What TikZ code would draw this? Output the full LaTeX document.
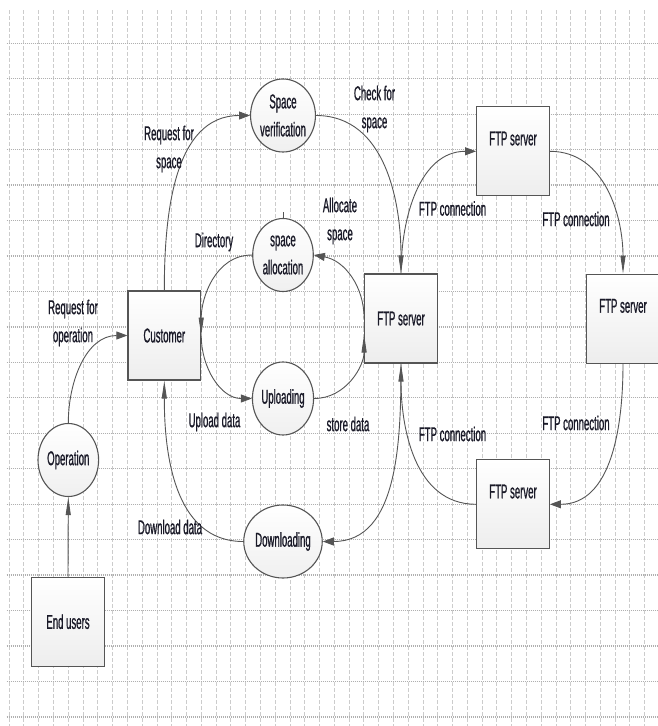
\documentclass[tikz,border=0pt]{standalone}
\usepackage{fontspec}
\setmainfont{Liberation Sans}[FakeStretch=0.48,FakeBold=0.8]
\usetikzlibrary{arrows.meta,shapes.geometric}
\definecolor{linec}{HTML}{555555}
\definecolor{txt}{HTML}{1A1A28}
\definecolor{vgrid}{HTML}{CCCCCC}
\definecolor{hgrid}{HTML}{B0B0B0}
\begin{document}
\begin{tikzpicture}[x=1pt,y=1pt,
  every node/.style={font=\fontsize{20}{28}\selectfont, text=txt},
  proc/.style={ellipse, draw=linec, line width=1.1pt, top color=white, bottom color=gray!12,
    minimum width=60.6pt, minimum height=73pt, inner sep=0pt, align=center},
  ent/.style={rectangle, draw=linec, line width=1.2pt, top color=white, bottom color=gray!14,
    minimum width=72.6pt, minimum height=89pt, inner sep=0pt},
  lbl/.style={align=center, inner sep=0pt},
  conn/.style={draw=linec, line width=0.9pt},
  harr/.style={conn, -{Triangle[length=11pt,width=8pt]}},
  varr/.style={conn, -{Triangle[length=18pt,width=5pt]}},
  vline/.style={vgrid, line width=0.6pt, dash pattern=on 4pt off 2pt},
  hline/.style={hgrid, line width=1.3pt, dash pattern=on 1.2pt off 0.8pt},
]
\fill[white] (0,0) rectangle (657,-726);
\useasboundingbox (0,0) rectangle (657,-726);
% grid
\foreach \i in {0,...,43} \draw[vline] ({9+14.78*\i},-10) -- ({9+14.78*\i},-726);
\foreach \j in {0,...,19} \draw[hline] (6.7,{-43.3-35.45*\j}) -- (657,{-43.3-35.45*\j});

% processes
\node[proc] (sv) at (283,-115.5) {Space\\verification};
\node[proc] (alloc) at (283,-255) {space\\allocation};
\node[proc] (upl) at (283,-398.5) {Uploading};
\node[proc] (dl) at (283,-541.5) {Downloading};
\node[proc] (op) at (68.3,-460) {Operation};

% entities
\node[ent] (eu) at (68,-621.7) {End users};
\node[ent] (cust) at (164.3,-335.5) {Customer};
\node[ent] (ftp) at (401,-318.5) {FTP server};
\node[ent] (ts) at (513,-151.3) {\raisebox{6pt}[0pt][0pt]{FTP server}};
\node[ent] (rs) at (623,-318.7) {\raisebox{6pt}[0pt][0pt]{FTP server}};
\node[ent] (bs) at (513,-504.3) {\raisebox{6pt}[0pt][0pt]{FTP server}};

% connectors
\draw[varr] (eu.north) -- (op.south);
\draw[harr] (op.north) to[out=90,in=180] (cust.west);
\draw[harr] (cust.north) to[out=90,in=180] (sv.west);
\draw[varr] (sv.east) to[out=0,in=90] (ftp.north);
\draw[harr] (ftp.north) to[out=90,in=180] (ts.west);
\draw[varr] (ts.east) to[out=0,in=90] (rs.north);
\draw[harr] (rs.south) to[out=-90,in=0] (bs.east);
\draw[varr] (bs.west) to[out=180,in=-90] (ftp.south);
\draw[harr] (ftp.south) to[out=-90,in=0] (dl.east);
\draw[varr] (dl.west) to[out=180,in=-90] (cust.south);
\draw[harr] (ftp.west) to[out=90,in=-10] (alloc.east);
\draw[varr] (alloc.west) to[out=180,in=90] (cust.east);
\draw[harr] (cust.east) to[out=-90,in=180] (upl.west);
\draw[varr] (upl.east) to[out=0,in=-90] ([yshift=-16pt]ftp.west);
\draw[conn] (alloc.north) -- ++(0,6);

% labels
\node[lbl] (l1) at (73,-323) {Request for\\operation};
\node[lbl] (l2) at (169,-149) {Request for\\space};
\node[lbl] (l3) at (374.5,-109) {Check for\\space};
\node[lbl] (l4) at (340,-221) {Allocate\\space};
\node[lbl] (l5) at (214,-242) {Directory};
\node[lbl] (l6) at (214.5,-422) {Upload data};
\node[lbl] (l7) at (348,-424) {store data};
\node[lbl] (l8) at (452.5,-208.5) {FTP connection};
\node[lbl] (l9) at (576,-219) {FTP connection};
\node[lbl] (l10) at (576,-423) {FTP connection};
\node[lbl] (l11) at (452.5,-434) {FTP connection};
\node[lbl] (l12) at (170,-527) {Download data};
\end{tikzpicture}
\end{document}
